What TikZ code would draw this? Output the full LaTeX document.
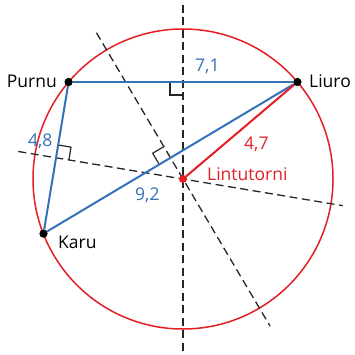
\documentclass[tikz,border=0pt]{standalone}
\usepackage{fontspec}
\setmainfont{Open Sans}
\usetikzlibrary{calc}
\definecolor{cblue}{RGB}{52,113,184}
\definecolor{cred}{RGB}{227,30,36}
\begin{document}
\begin{tikzpicture}[x=1pt,y=-1pt,
  bis/.style={black!85, line width=1.3pt, dash pattern=on 8pt off 4.5pt},
  chord/.style={cblue, line width=2pt},
  ra/.style={black!85, line width=1.2pt},
  lab/.style={inner sep=0pt, font=\fontsize{17.5}{20}\selectfont},
  dot/.style={circle, fill=black, inner sep=0pt, minimum size=8pt}]
\useasboundingbox (0,0) rectangle (354,355);
\coordinate (O) at (183,179);
\draw[cred, line width=1.5pt] (O) circle (150pt);
% points
\node[dot] (purnu) at (68.6,82) {};
\node[dot] (liuro) at (297.4,82) {};
\node[dot] (karu) at (43.5,233.6) {};
% midpoints
\coordinate (M0) at ($(purnu)!0.5!(liuro)$);
\coordinate (M1) at ($(purnu)!0.5!(karu)$);
\coordinate (M2) at ($(karu)!0.5!(liuro)$);
% bisectors
\coordinate (v1) at (183,5);
\coordinate (v2) at (183,355);
\coordinate (p1) at ($(O)!167pt!(M1)$);
\coordinate (p2) at ($(O)!-162pt!(M1)$);
\coordinate (k1) at ($(O)!170pt!(M2)$);
\coordinate (k2) at ($(O)!-171pt!(M2)$);
\draw[bis] (v1) -- (v2);
\draw[bis] (p1) -- (p2);
\draw[bis] (k1) -- (k2);
% right angle marks
\coordinate (a0) at ($(M0)!13pt!(purnu)$);
\coordinate (b0) at ($(M0)!13pt!(O)$);
\draw[ra] (a0) -- ($(a0)+(b0)-(M0)$) -- (b0);
\coordinate (a1) at ($(M1)!13pt!(purnu)$);
\coordinate (b1) at ($(M1)!13pt!(O)$);
\draw[ra] (a1) -- ($(a1)+(b1)-(M1)$) -- (b1);
\coordinate (a2) at ($(M2)!13pt!(karu)$);
\coordinate (b2) at ($(M2)!-13pt!(O)$);
\draw[ra] (a2) -- ($(a2)+(b2)-(M2)$) -- (b2);
% chords
\draw[chord] (purnu) -- (liuro);
\draw[chord] (purnu) -- (karu);
\draw[chord] (karu) -- (liuro);
\node[circle, fill=cred, inner sep=0pt, minimum size=8pt] (lint) at (O) {};
\draw[cred, line width=2pt] (lint.center) -- (liuro);
\node[dot] at (purnu) {};
\node[dot] at (liuro) {};
\node[dot] at (karu) {};
% labels
\node[lab, anchor=base east] (tp) at (57,88) {Purnu};
\node[lab, anchor=base west] (tl) at (309,88) {Liuro};
\node[lab, anchor=base west] (tk) at (58,248) {Karu};
\node[lab, anchor=base west, text=cblue] (t71) at (195,72) {7,1};
\node[lab, anchor=base west, text=cblue] (t48) at (28,147) {4,8};
\node[lab, anchor=base west, text=cblue] (t92) at (135,200) {9,2};
\node[lab, anchor=base west, text=cred] (t47) at (244,150) {4,7};
\node[lab, anchor=base west, text=cred] (tlin) at (207,180) {Lintutorni};
\end{tikzpicture}
\end{document}
